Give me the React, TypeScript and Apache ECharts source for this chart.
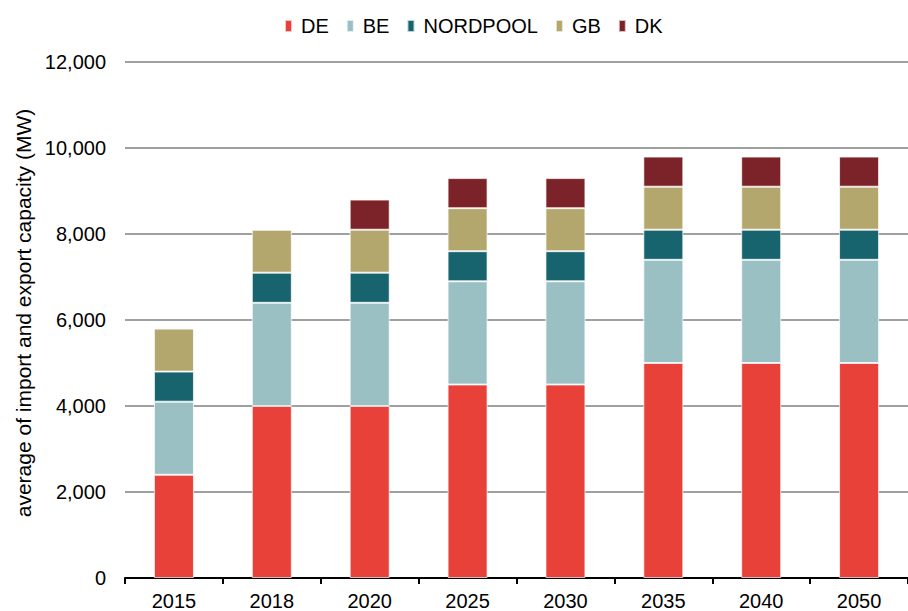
import React, { useEffect, useRef } from "react";
import * as echarts from "echarts";

const categories = ["2015", "2018", "2020", "2025", "2030", "2035", "2040", "2050"];
const deValues = [2400, 4000, 4000, 4500, 4500, 5000, 5000, 5000];
const beValues = [1700, 2400, 2400, 2400, 2400, 2400, 2400, 2400];
const nordpoolValues = [700, 700, 700, 700, 700, 700, 700, 700];
const gbValues = [1000, 1000, 1000, 1000, 1000, 1000, 1000, 1000];
const dkValues = [0, 0, 700, 700, 700, 700, 700, 700];

const seriesNames = ["DE", "BE", "NORDPOOL", "GB", "DK"];
const seriesColors = ["#E8413A", "#9BC0C4", "#17646F", "#B3A76E", "#7B2328"];

export default function App() {
  const ref = useRef<HTMLDivElement>(null);
  useEffect(() => {
    if (!ref.current) return;
    const chart = echarts.init(ref.current, null, { renderer: "svg" });
    const data = [deValues, beValues, nordpoolValues, gbValues, dkValues];
    const font = "Liberation Sans, Arial, sans-serif";
    chart.setOption({
      animation: false,
      legend: {
        top: 11,
        left: 279,
        itemWidth: 7,
        itemHeight: 12,
        itemGap: 17,
        icon: "rect",
        textStyle: { fontFamily: font, fontSize: 20, color: "#000", padding: [0, 0, 0, 4] },
        data: seriesNames,
      },
      grid: { left: 125, top: 62, width: 792, height: 516, containLabel: false },
      xAxis: {
        type: "category",
        data: categories,
        axisLine: { lineStyle: { color: "#000", width: 2 } },
        axisTick: { show: true, length: 6, lineStyle: { color: "#000", width: 2 } },
        axisLabel: { fontFamily: font, fontSize: 20, color: "#000", margin: 13 },
      },
      yAxis: {
        type: "value",
        min: 0,
        max: 12000,
        interval: 2000,
        name: "average of import and export capacity (MW)",
        nameLocation: "middle",
        nameGap: 91,
        nameTextStyle: { fontFamily: font, fontSize: 21, color: "#000", padding: [0, 0, 0, 14] },
        axisLine: { show: false },
        axisTick: { show: false },
        axisLabel: {
          fontFamily: font,
          fontSize: 20,
          color: "#000",
          margin: 19,
          formatter: (v: number) => v.toLocaleString("en-US"),
        },
        splitLine: { lineStyle: { color: "#a0a0a0", width: 2 } },
      },
      series: seriesNames.map((name, i) => ({
        name,
        type: "bar",
        stack: "total",
        barWidth: 40,
        data: data[i],
        itemStyle: {
          color: seriesColors[i],
          borderColor: "rgba(255,255,255,0.7)",
          borderWidth: 1,
        },
      })),
    });
    return () => chart.dispose();
  }, []);
  return <div ref={ref} style={{ width: 908, height: 611, position: "absolute", left: 0, top: 0 }} />;
}
